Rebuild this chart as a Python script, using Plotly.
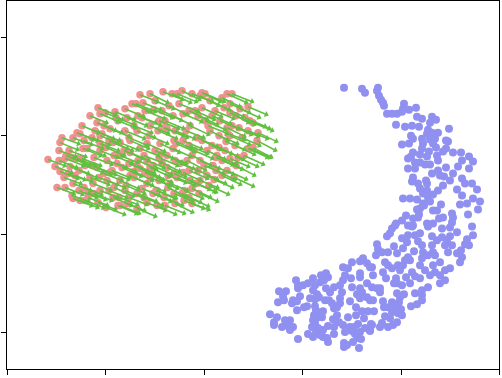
import math
import plotly.graph_objects as go

x_ticks = [-197, -99, 0, 98, 197, 295]
y_ticks = [148, 50, -49, -147]

blue_x = [140,158,161,174,173,175,177,179,180,183,188,193,198,200,199,205,212,213,218,228,232,226,192,201,208,215,245,224,228,234,223,207,209,218,226,231,229,242,244,198,205,219,218,242,239,225,223,209,207,216,204,233,234,249,257,265,269,258,254,265,211,216,221,226,204,211,242,228,234,249,240,246,209,208,214,222,223,258,261,268,239,216,253,273,223,234,219,229,224,258,199,206,213,226,269,276,263,256,219,237,216,213,274,264,229,233,248,249,239,235,215,202,198,209,192,223,229,248,204,209,
191,188,208,224,238,246,268,253,269,183,186,204,211,216,228,233,238,246,243,198,203,263,214,218,261,265,173,190,174,178,184,248,241,244,257,210,199,193,219,229,231,253,258,204,201,218,224,236,256,181,184,199,194,216,229,168,188,196,221,246,241,169,179,208,231,211,216,182,192,226,236,241,236,193,206,198,224,218,168,173,176,193,200,211,218,213,207,218,169,179,188,195,184,191,197,188,194,198,181,186,193,189,184,178,176,168,166,
148,156,159,163,166,139,144,156,156,141,139,147,163,148,138,156,153,158,156,163,166,136,146,136,133,130,152,158,164,170,160,144,133,129,135,139,154,167,161,166,146,148,124,130,130,141,156,151,154,157,149,143,140,140,155,123,124,119,109,104,116,119,114,108,111,118,110,114,109,112,119,116,111,121,125,115,111,106,103,93,96,89,88,93,80,74,75,82,79,66,73,70,70,81,86,84,78,89,86,94,92,94,94,99,104,109,111,117,122,124,116,109,113,122,130,126,
226,232,220,236,214,228,202,196,206,190,180,172,150,136,120,100,176,152,128,112]
blue_y = [98,97,93,98,95,90,86,83,80,72,72,72,74,82,77,76,78,69,67,69,66,63,61,59,60,59,57,56,53,53,52,50,47,47,50,47,42,45,44,41,42,42,37,37,34,34,29,33,29,31,27,30,25,33,33,29,24,25,19,17,23,23,21,21,17,17,18,12,15,12,9,5,8,4,2,5,2,7,2,2,0,-3,-4,-4,-5,-5,-8,-9,-12,-10,-13,-13,-14,-16,-13,-16,-18,-19,-18,-19,-23,-24,-24,-29,-25,-25,-28,-32,-32,-33,-29,-30,-35,-33,-38,-38,-38,-37,-40,-40,
-40,-43,-41,-41,-43,-42,-41,-47,-50,-51,-48,-50,-50,-48,-51,-55,-52,-51,-55,-53,-57,-54,-56,-60,-59,-60,-59,-61,-64,-67,-67,-60,-60,-67,-65,-66,-63,-68,-67,-67,-70,-68,-72,-72,-75,-73,-70,-77,-77,-77,-80,-80,-80,-80,-80,-82,-83,-85,-85,-83,-85,-90,-87,-87,-87,-91,-93,-93,-93,-90,-90,-95,-98,-98,-98,-100,-102,-105,-102,-103,-107,-108,-109,-108,-110,-119,-121,-115,-115,-116,-117,-117,-122,-123,-124,-127,-128,-130,-131,-133,-137,-140,-142,-138,-142,-140,-145,
-77,-76,-73,-78,-82,-82,-83,-88,-92,-90,-95,-93,-98,-102,-107,-103,-109,-107,-113,-112,-115,-113,-116,-118,-122,-123,-122,-126,-126,-126,-133,-132,-130,-134,-137,-140,-139,-139,-143,-146,-142,-146,-141,-142,-149,-147,-147,-149,-153,-154,-157,-160,-158,-162,-163,-153,-157,-152,-152,-149,-150,-145,-143,-142,-138,-132,-130,-132,-135,-125,-126,-128,-121,-115,-115,-112,-114,-113,-121,-125,-111,-115,-118,-116,-115,-117,-106,-106,-111,-129,-132,-137,-140,-135,-135,-141,-142,-142,-145,-154,-95,-100,-103,-100,-98,-93,-100,-90,-88,-92,-97,-105,-109,-103,-102,-107,
46,38,-20,10,-32,-60,-92,-112,-75,-98,-122,-70,-142,-100,-95,-122,-103,-130,-118,-147]

pink_x = [-41,-32,-27,-22,-12,-2,1,-4,23,28,18,26,44,36,26,41,46,23,28,49,53,54,44,46,49,8,3,34,26,18,13,-12,-21,-14,-12,-37,-42,-51,-54,-36,-29,-39,-47,-9,-21,-31,-42,-46,-37,-6,16,6,26,-7,-21,-44,-31,-17,-6,3,9,23,-27,-37,-47,-22,-7,44,32,18,
-64,-72,-68,-61,-79,-106,-114,-104,-99,-89,-107,-86,-77,-62,-122,-124,-109,-94,-67,-142,-144,-131,-145,-121,-122,-156,-145,-139,-149,-144,-134,-136,-107,-84,-91,-104,-57,-74,-57,-84,-111,-147,-139,-132,-131,-106,-98,-116,-91,-67,-57,-67,-77,-84,-57,-51,-131,-127,-97,-87,-67,-114,-97,-117,-127,
-124,-119,-104,-79,-94,-74,-59,-104,-79,-54,-59,-49,-54,-39,-29,-14,1,11,6,31,21,-4,-29,-49,-64,-84,-119,-129,-104,-74,
-100,-112,-95,-80,-70,-55,-45,-35,-25,-15,-2,8,20,32,35,15,-2,-15,-30,-45,-60,-75,-92,-105,-120,-135,-125,-110,-90,-70,-62,-45,-30,-15,-5,5,12,30,40,15,0,-15,-30,-75,-60,-95,-85,-40,-20,-110,-125,-140,
-88,-102,-75,-66,-50,-40,-28,-18,-10,4,22,38,-82,-98,-112,-70,-54,-42,-24,-8,12,-120,-132,-90,-78,-64,-48,-34,-12,10,-100,-86,-116,-138,-66,-52,-36,-20,-4,24]
pink_y = [94,92,92,95,92,93,92,90,92,92,88,82,79,77,73,68,65,58,60,63,45,53,55,37,38,40,35,28,27,25,30,30,13,5,-3,30,23,20,8,-2,-18,-20,-20,75,72,70,75,55,57,70,65,55,50,48,45,42,37,25,15,10,20,15,8,18,-5,-8,2,37,20,10,
91,82,82,83,77,78,70,72,73,74,63,65,68,68,60,52,55,57,55,48,43,48,35,37,27,26,25,27,19,14,19,12,18,43,43,42,42,33,25,5,2,-2,-2,-10,-13,-17,-22,-7,-12,-8,2,-23,-18,-20,-17,-8,2,27,25,22,20,8,5,37,53,
-15,-15,-5,-5,13,10,13,35,55,60,75,85,92,65,55,60,65,75,85,40,35,25,25,35,37,30,20,10,50,45,
60,48,45,35,60,50,65,80,82,75,78,70,78,70,58,50,45,40,45,28,30,22,15,8,-2,35,15,28,30,8,-3,5,-8,-12,-8,0,15,8,30,38,20,15,12,-12,-12,-5,-12,-12,-15,-8,-5,8,
68,52,48,70,76,58,42,55,35,60,44,48,18,38,20,14,18,32,22,2,28,45,28,-2,0,17,-5,2,-18,6,12,-20,-12,30,25,12,10,-5,5,52]
arrow_u = [22,21,22,20,23,21,22,21,22,23,20,22,21,22,21,23,22,20,22,22,21,21,22,23,21,22,20,22,21,23,22,21,20,22,21,22,20,21,22,21,20,22,21,22,21,20,22,21,23,22,21,20,22,23,21,22,20,21,22,21,23,22,20,21,22,21,22,22,21,21,
20,21,22,20,21,20,19,21,20,22,21,20,22,21,19,20,21,22,20,19,20,21,19,20,21,19,20,21,19,20,21,19,21,20,22,21,20,21,19,21,20,19,20,19,21,20,21,20,21,22,20,21,20,22,21,20,20,21,22,21,20,21,20,20,19,
20,21,20,22,21,20,21,20,22,21,22,21,20,21,22,21,23,21,22,22,21,22,21,20,21,20,20,19,20,21,
20,20,21,21,20,21,22,21,22,21,22,21,22,21,22,21,22,21,20,21,20,21,20,21,20,19,20,20,21,21,20,21,21,22,21,22,21,22,22,21,22,21,21,20,21,20,21,21,22,20,20,19,21,20,21,20,21,22,
21,20,21,22,21,20,22,21,22,21,22,23,20,21,19,21,20,22,21,22,21,20,19,21,20,21,22,21,21,22,20,21,20,19,21,20,22,21,22,22,21,20,21,20,21,22,21,20,21,22]
arrow_v = [-9,-10,-9,-10,-9,-10,-9,-11,-10,-9,-10,-10,-9,-10,-11,-10,-9,-10,-10,-9,-11,-10,-9,-10,-11,-9,-10,-10,-9,-10,-10,-11,-9,-10,-10,-9,-10,-10,-9,-11,-10,-9,-10,-10,-9,-10,-11,-9,-10,-10,-9,-11,-10,-10,-9,-10,-9,-11,-10,-9,-10,-10,-9,-10,-9,-10,-10,-10,-11,-10,
-8,-9,-9,-8,-9,-8,-8,-9,-8,-9,-9,-8,-9,-9,-8,-8,-9,-9,-8,-7,-8,-8,-7,-8,-8,-7,-8,-8,-7,-8,-8,-7,-8,-8,-9,-8,-9,-9,-8,-9,-8,-7,-8,-7,-8,-8,-8,-8,-9,-9,-9,-9,-8,-9,-9,-9,-8,-8,-8,-9,-9,-8,-8,-8,-8,
-8,-8,-8,-9,-8,-9,-9,-8,-9,-9,-9,-9,-10,-9,-9,-10,-10,-9,-10,-10,-10,-9,-9,-9,-8,-8,-8,-7,-8,-9,
-8,-8,-9,-9,-8,-9,-9,-10,-9,-10,-10,-9,-10,-10,-10,-9,-10,-9,-9,-9,-8,-9,-8,-8,-8,-7,-8,-8,-9,-9,-8,-9,-9,-10,-9,-10,-10,-10,-10,-10,-9,-9,-9,-8,-9,-8,-8,-9,-9,-8,-8,-7,-8,-8,-9,-8,-9,-9,
-9,-8,-9,-9,-9,-9,-10,-9,-10,-10,-10,-10,-8,-9,-8,-9,-9,-10,-9,-10,-9,-8,-7,-9,-8,-9,-9,-9,-10,-10,-8,-9,-8,-7,-9,-9,-10,-9,-10,-10,-9,-9,-9,-8,-9,-10,-9,-9,-9,-10]

shaft_x, shaft_y, head_x, head_y, head_angle = [], [], [], [], []
for x, y, u, v in zip(pink_x, pink_y, arrow_u, arrow_v):
    shaft_x += [x, x + 0.85 * u, None]
    shaft_y += [y, y + 0.85 * v, None]
    head_x.append(x + 0.87 * u)
    head_y.append(y + 0.87 * v)
    head_angle.append(math.degrees(math.atan2(u, v)))

fig = go.Figure()
fig.add_trace(go.Scatter(x=pink_x, y=pink_y, mode="markers",
                         marker=dict(color="#F09090", size=7.5, line=dict(width=0))))
fig.add_trace(go.Scatter(x=blue_x, y=blue_y, mode="markers",
                         marker=dict(color="#9090F0", size=8, line=dict(width=0))))
fig.add_trace(go.Scatter(x=shaft_x, y=shaft_y, mode="lines",
                         line=dict(color="#60C040", width=1.6)))
fig.add_trace(go.Scatter(x=head_x, y=head_y, mode="markers",
                         marker=dict(color="#60C040", size=5.5, symbol="triangle-up",
                                     angle=head_angle, line=dict(width=0))))

axis = dict(showgrid=False, zeroline=False, showline=True, linecolor="black", linewidth=1,
            mirror=True, ticks="outside", ticklen=5, tickwidth=1, tickcolor="black",
            showticklabels=False)
fig.update_xaxes(range=[-197, 295], tickmode="array", tickvals=x_ticks, **axis)
fig.update_yaxes(range=[-184, 185], tickmode="array", tickvals=y_ticks, **axis)
fig.update_layout(width=502, height=378, showlegend=False,
                  margin=dict(l=7, r=3, t=1, b=9, pad=0),
                  paper_bgcolor="white", plot_bgcolor="white")
fig.write_html("out.html", config={"displayModeBar": False},
               post_script="document.body.style.margin='0';document.body.style.overflow='hidden';")
